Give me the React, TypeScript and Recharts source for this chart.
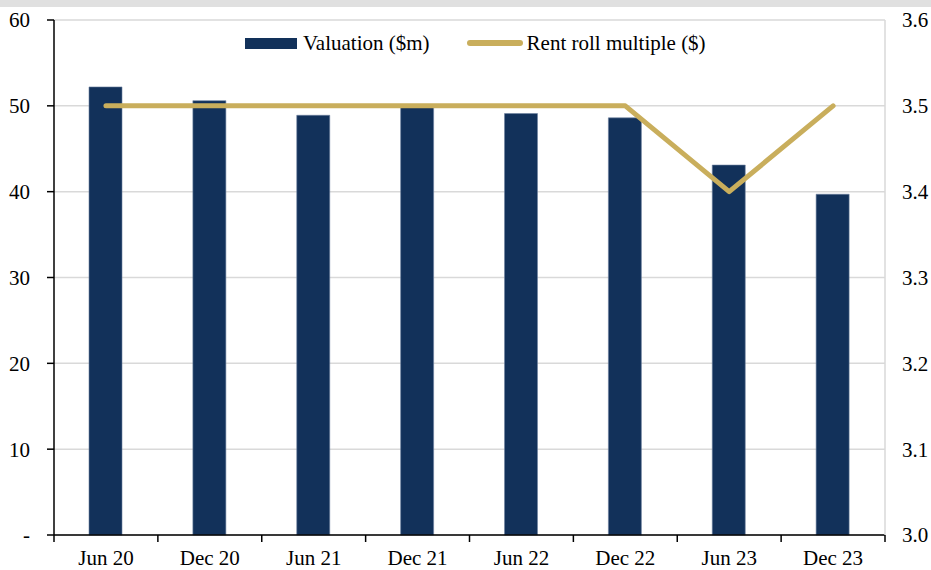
import React from 'react'
import {
  ComposedChart, Bar, Line, XAxis, YAxis, CartesianGrid, Legend,
} from 'recharts'

const periods = ['Jun 20', 'Dec 20', 'Jun 21', 'Dec 21', 'Jun 22', 'Dec 22', 'Jun 23', 'Dec 23']
const valuation = [52.2, 50.6, 48.9, 49.9, 49.1, 48.6, 43.1, 39.7]
const rentRollMultiple = [3.5, 3.5, 3.5, 3.5, 3.5, 3.5, 3.4, 3.5]
const leftTicks = [0, 10, 20, 30, 40, 50, 60]
const rightTicks = [3.0, 3.1, 3.2, 3.3, 3.4, 3.5, 3.6]

const BAR_COLOR = '#12315a'
const LINE_COLOR = '#c9ae5c'
const FONT = '"Liberation Serif", "Times New Roman", serif'
const FONT_SIZE = 21

const data = periods.map((p, i) => ({
  period: p,
  valuation: valuation[i],
  multiple: rentRollMultiple[i],
}))

function renderLegend() {
  const text = { fontFamily: FONT, fontSize: FONT_SIZE, color: '#000', lineHeight: '22px' }
  return (
    <div style={{ display: 'flex', alignItems: 'center' }}>
      <span style={{ width: 52, height: 11, background: BAR_COLOR, display: 'inline-block' }} />
      <span style={{ ...text, marginLeft: 6 }}>Valuation ($m)</span>
      <span style={{ width: 56, height: 6, borderRadius: 3, background: LINE_COLOR, display: 'inline-block', marginLeft: 37 }} />
      <span style={{ ...text, marginLeft: 4 }}>Rent roll multiple ($)</span>
    </div>
  )
}

// category label in the band centre, tick marks on the band edges
function PeriodTick(props: any) {
  const { x, y, payload, index, visibleTicksCount } = props
  const half = payload.offset || 0
  const last = index === visibleTicksCount - 1
  return (
    <g>
      <line x1={x - half} x2={x - half} y1={y} y2={y + 7} stroke="#000" strokeWidth={1.5} />
      {last && <line x1={x + half} x2={x + half} y1={y} y2={y + 7} stroke="#000" strokeWidth={1.5} />}
      <text x={x} y={y + 15} dy="0.71em" textAnchor="middle" fill="#000"
        style={{ fontFamily: FONT, fontSize: FONT_SIZE }}>
        {payload.value}
      </text>
    </g>
  )
}

function ValueTick(props: any) {
  const { x, y, payload, textAnchor, tickFormatter } = props
  const label = tickFormatter ? tickFormatter(payload.value) : payload.value
  return (
    <text x={x} y={y} dy="0.355em" textAnchor={textAnchor} fill="#000"
      style={{ fontFamily: FONT, fontSize: FONT_SIZE }}>
      {label}
    </text>
  )
}

export default function App() {
  return (
    <div style={{ position: 'absolute', left: 0, top: 0, width: 931, height: 570, background: '#fff', fontFamily: FONT }}>
      <div style={{ position: 'absolute', left: 0, top: 0, width: 931, height: 7, background: '#e0e0e0' }} />
      <ComposedChart
        width={931}
        height={570}
        data={data}
        margin={{ top: 20, right: 0, bottom: 0, left: 0 }}
        barSize={33}
        style={{ fontFamily: FONT }}
      >
        <CartesianGrid vertical={false} stroke="#d9d9d9" strokeWidth={1.5} yAxisId="left" />
        <XAxis
          dataKey="period"
          tickLine={false}
          axisLine={{ stroke: '#000', strokeWidth: 1.5 }}
          tick={<PeriodTick />}
          tickSize={0}
          tickMargin={0}
          height={35}
          interval={0}
        />
        <YAxis
          yAxisId="left"
          domain={[0, 60]}
          ticks={leftTicks}
          width={54}
          tick={<ValueTick />}
          tickSize={7}
          tickMargin={17}
          axisLine={{ stroke: '#000', strokeWidth: 1.5 }}
          tickLine={{ stroke: '#000', strokeWidth: 1.5 }}
          tickFormatter={(v: number) => (v === 0 ? '-' : String(v))}
        />
        <YAxis
          yAxisId="right"
          orientation="right"
          domain={[3.0, 3.6]}
          ticks={rightTicks}
          width={46}
          tick={<ValueTick />}
          tickSize={0}
          tickMargin={17}
          tickLine={false}
          axisLine={{ stroke: '#d9d9d9', strokeWidth: 1.5 }}
          tickFormatter={(v: number) => v.toFixed(1)}
        />
        <Legend
          content={renderLegend}
          layout="horizontal"
          verticalAlign="middle"
          align="center"
          wrapperStyle={{ position: 'absolute', top: 32, left: 245, width: 'auto' }}
        />
        <Bar
          yAxisId="left"
          dataKey="valuation"
          name="Valuation ($m)"
          fill={BAR_COLOR}
          stroke="#6d82a0"
          strokeWidth={0.6}
          isAnimationActive={false}
        />
        <Line
          yAxisId="right"
          dataKey="multiple"
          name="Rent roll multiple ($)"
          type="linear"
          stroke={LINE_COLOR}
          strokeWidth={5}
          strokeLinecap="round"
          strokeLinejoin="round"
          dot={false}
          activeDot={false}
          isAnimationActive={false}
        />
      </ComposedChart>
    </div>
  )
}
